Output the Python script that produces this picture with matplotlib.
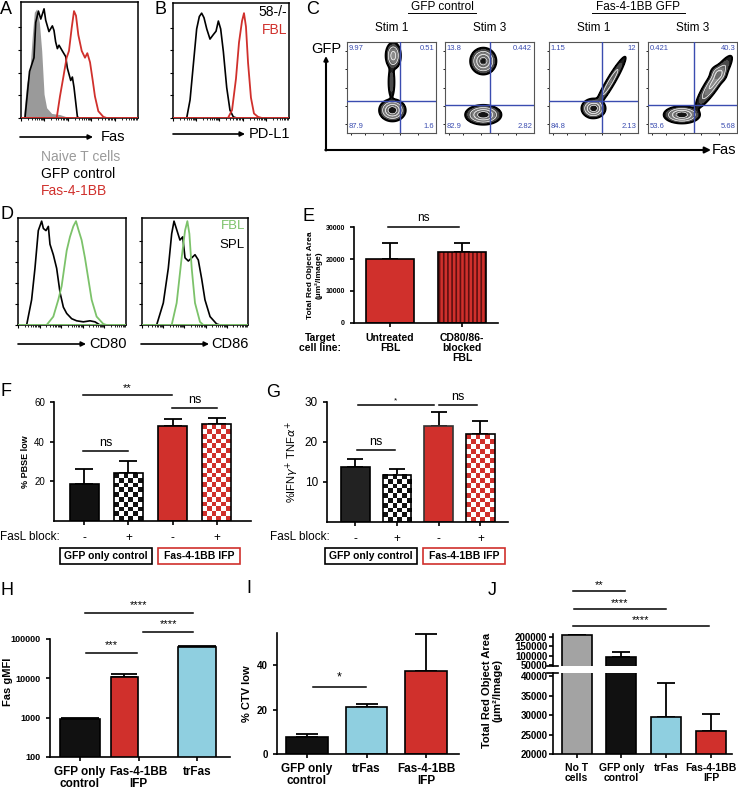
import numpy as np
import matplotlib
matplotlib.use('Agg')
import matplotlib.pyplot as plt
from matplotlib.patches import Rectangle, FancyArrowPatch
from matplotlib.lines import Line2D
from matplotlib.colors import ListedColormap

plt.rcParams['font.family'] = ['Liberation Sans', 'DejaVu Sans']
plt.rcParams['hatch.linewidth'] = 1.2

RED = '#d0302c'
BLUE = '#8fcfe0'
GREEN = '#7cc26a'
QBLUE = '#3a4cb0'

# ---------------- data ----------------
# A: Fas histograms (channel units 0-100, % of max)
a_naive_x = [2.0, 4.8, 7.7, 9.7, 11.4, 13.4, 15.7, 17.7, 19.7, 21.9, 26.2, 33.3, 39.0, 44.7]
a_naive_y = [0, 30, 44, 73, 93, 96, 84, 59, 21, 9, 4, 3, 1, 0]
a_gfp_x = [3.4, 7.3, 11.1, 12.6, 14.9, 16.9, 19.7, 21.1, 23.9, 26.8, 28.2, 29.6, 31.1, 32.5,
           35.3, 38.2, 39.6, 42.5, 43.9, 45.3, 48.2, 49.6]
a_gfp_y = [0, 41, 53, 84, 94, 87, 96, 86, 76, 81, 77, 67, 61, 64, 59, 54, 44, 33, 36, 27, 1, 0]
a_fas_x = [30.5, 33.3, 36.2, 39.0, 41.0, 43.3, 45.3, 47.0, 49.0, 51.9, 54.7, 56.7, 59.0, 61.3,
           63.2, 66.1, 70.4, 73.2]
a_fas_y = [0, 19, 36, 53, 59, 79, 94, 90, 73, 59, 53, 57, 49, 33, 19, 6, 1, 0]

# B: PD-L1 histograms
b_58_x = [11.8, 14.7, 17.5, 20.4, 22.7, 24.7, 26.7, 29.1, 31.9, 34.8, 37.1, 39.1, 41.1, 43.4,
          46.3, 49.1, 52.0, 54.9]
b_58_y = [0, 16, 47, 79, 90, 93, 89, 79, 70, 74, 77, 86, 79, 59, 27, 7, 1, 0]
b_fbl_x = [47.4, 50.9, 54.3, 56.9, 59.5, 61.2, 62.9, 64.7, 67.2, 69.8, 73.3, 76.7]
b_fbl_y = [0, 7, 35, 67, 86, 93, 81, 49, 18, 4, 1, 0]

# C: flow plots, quadrant values and populations (cx, cy, sx, sy, weight, corr)
c_titles = ['Stim 1', 'Stim 3', 'Stim 1', 'Stim 3']
c_quads = [['9.97', '0.51', '87.9', '1.6'],
           ['13.8', '0.442', '82.9', '2.82'],
           ['1.15', '12', '84.8', '2.13'],
           ['0.421', '40.3', '53.6', '5.68']]
c_gates = [(0.59, 0.35), (0.51, 0.31), (0.59, 0.35), (0.52, 0.31)]
c_pops = [
    [(0.51, 0.25, 0.055, 0.045, 1.0, 0.0), (0.52, 0.85, 0.035, 0.06, 0.5, 0.0),
     (0.50, 0.56, 0.018, 0.09, 0.13, 0.0)],
    [(0.43, 0.20, 0.075, 0.04, 1.0, 0.0), (0.43, 0.79, 0.055, 0.055, 0.9, 0.0)],
    [(0.50, 0.27, 0.05, 0.04, 1.0, 0.0), (0.69, 0.56, 0.08, 0.13, 0.25, 0.95)],
    [(0.38, 0.20, 0.075, 0.035, 1.0, 0.0), (0.74, 0.56, 0.085, 0.12, 0.45, 0.9),
     (0.79, 0.65, 0.04, 0.04, 0.25, 0.0)],
]

# D: CD80 / CD86 histograms
d80_spl_x = [8.0, 12.6, 15.7, 18.8, 21.9, 23.5, 25.9, 28.1, 29.6, 32.7, 35.8, 38.9, 42.0, 45.1,
             49.7, 54.3, 60.5, 66.7, 71.3, 75.9]
d80_spl_y = [0, 24, 54, 90, 99, 92, 90, 94, 77, 67, 54, 31, 17, 11, 6, 4, 3, 4, 3, 0]
d80_fbl_x = [26.5, 32.7, 37.3, 40.4, 45.1, 48.1, 51.2, 53.7, 55.9, 57.4, 58.9, 62.0, 65.1, 68.2,
             72.8, 79.0, 82.1]
d80_fbl_y = [0, 8, 24, 37, 71, 84, 94, 99, 91, 86, 81, 64, 44, 24, 8, 1, 0]
d86_spl_x = [13.8, 20.1, 24.8, 28.0, 30.2, 32.7, 35.8, 38.4, 40.6, 43.7, 46.9, 50.0, 53.1, 56.3,
             59.4, 64.2, 70.4, 73.6]
d86_spl_y = [0, 21, 54, 87, 99, 91, 81, 84, 64, 61, 64, 67, 62, 44, 24, 8, 1, 0]
d86_fbl_x = [28.0, 32.7, 37.4, 40.6, 42.8, 44.7, 46.9, 50.0, 54.7, 57.9]
d86_fbl_y = [0, 21, 64, 90, 99, 87, 54, 21, 3, 0]

# E
e_labels = ['Untreated\nFBL', 'CD80/86-\nblocked\nFBL']
e_vals = [20000, 22200]
e_errs = [5000, 2800]

# F
f_ticks = ['-', '+', '-', '+']
f_vals = [18.7, 24.2, 47.9, 48.9]
f_errs = [7.5, 6.1, 3.5, 3.0]

# G
g_vals = [13.8, 11.8, 24.0, 22.0]
g_errs = [2.0, 1.5, 3.5, 3.3]

# H
h_labels = ['GFP only\ncontrol', 'Fas-4-1BB\nIFP', 'trFas']
h_vals = [940, 10700, 63000]
h_errs = [40, 2000, 1800]

# I
i_labels = ['GFP only\ncontrol', 'trFas', 'Fas-4-1BB\nIFP']
i_vals = [7.5, 21.0, 37.3]
i_errs = [1.3, 1.4, 16.5]

# J
j_labels = ['No T\ncells', 'GFP only\ncontrol', 'trFas', 'Fas-4-1BB\nIFP']
j_vals = [210000, 92000, 29400, 25800]
j_errs = [5000, 27000, 8800, 4400]

# ---------------- figure helpers ----------------
W, H = 738, 793
fig = plt.figure(figsize=(W / 100, H / 100), dpi=100)


def px_axes(x0, y0, x1, y1):
    return fig.add_axes([x0 / W, 1 - y1 / H, (x1 - x0) / W, (y1 - y0) / H])


def ftext(x, y, s, **kw):
    return fig.text(x / W, 1 - y / H, s, **kw)


def fline(x0, y0, x1, y1, **kw):
    fig.add_artist(Line2D([x0 / W, x1 / W], [1 - y0 / H, 1 - y1 / H],
                          transform=fig.transFigure, **kw))


def farrow(x0, y0, x1, y1, lw=1.2, head=7):
    fig.add_artist(FancyArrowPatch((x0 / W, 1 - y0 / H), (x1 / W, 1 - y1 / H),
                                   transform=fig.transFigure, arrowstyle='-|>',
                                   mutation_scale=head, lw=lw, color='black',
                                   shrinkA=0, shrinkB=0))


def fbox(x0, y0, x1, y1, color):
    fig.add_artist(Rectangle((x0 / W, 1 - y1 / H), (x1 - x0) / W, (y1 - y0) / H,
                             transform=fig.transFigure, fill=False, edgecolor=color, lw=1.2))


def hist_axes(ax, base_color):
    ax.set_xlim(0, 100)
    ax.set_ylim(0, 102)
    ax.set_yticks([0, 20, 40, 60, 80])
    ax.set_yticklabels([])
    minor = [d + 20 * np.log10(k) for d in [0, 20, 40, 60, 80] for k in range(2, 10)]
    ax.set_xticks([0, 20, 40, 60, 80])
    ax.set_xticks(minor, minor=True)
    ax.set_xticklabels([])
    ax.tick_params(length=2, width=0.8)
    ax.tick_params(which='minor', length=1.2, width=0.6)
    for s in ax.spines.values():
        s.set_linewidth(1.1)
    ax.axhline(0.4, color=base_color, lw=1.4, zorder=5)


def bar_axes(ax):
    for s in ['top', 'right']:
        ax.spines[s].set_visible(False)
    for s in ['left', 'bottom']:
        ax.spines[s].set_linewidth(1.2)
    ax.tick_params(width=1.2, length=3)


def upper_err(ax, x, v, e, cap, lw=1.3):
    ax.errorbar(x, v, yerr=[np.zeros(len(v)), e], fmt='none', ecolor='black',
                elinewidth=lw, capsize=cap, capthick=lw, zorder=1)


def sig(ax, x0, x1, y, ty, label, fs=8):
    ax.plot([x0, x1], [y, y], color='black', lw=1.1, clip_on=False)
    ax.text((x0 + x1) / 2, ty, label, ha='center', va='bottom', fontsize=fs, clip_on=False)


def checker_bar(ax, x, w, h, color, nx, sq):
    ny = max(1, int(round(h / sq)))
    arr = np.indices((ny, nx)).sum(axis=0) % 2
    ax.imshow(arr, extent=[x - w / 2, x + w / 2, 0, h], cmap=ListedColormap(['white', color]),
              aspect='auto', interpolation='nearest', origin='lower', zorder=2)
    ax.bar(x, h, w, fill=False, edgecolor='black', lw=1.2, zorder=3)


# ---------------- panel letters ----------------
for s, x, y in [('A', 0, 1), ('B', 155, 1), ('C', 306, 1), ('D', 0, 206), ('E', 302, 208),
                ('F', 0, 383), ('G', 266, 384), ('H', 0, 582), ('I', 246, 580), ('J', 488, 582)]:
    ftext(x, y, s, fontsize=13, va='top', ha='left')

# ---------------- A ----------------
axA = px_axes(21, 2, 138, 118)
axA.fill_between(a_naive_x, a_naive_y, color='#9a9a9a', lw=0)
axA.plot(a_gfp_x, a_gfp_y, color='black', lw=1.2)
axA.plot(a_fas_x, a_fas_y, color=RED, lw=1.3)
hist_axes(axA, RED)
farrow(20, 137, 93, 137)
ftext(101, 137, 'Fas', fontsize=10.5, va='center')
ftext(41, 157, 'Naive T cells', fontsize=10, color='#9a9a9a', va='center')
ftext(41, 174, 'GFP control', fontsize=10, color='black', va='center')
ftext(41, 191, 'Fas-4-1BB', fontsize=10, color=RED, va='center')

# ---------------- B ----------------
axB = px_axes(173, 3, 289, 118)
axB.plot(b_58_x, b_58_y, color='black', lw=1.2)
axB.plot(b_fbl_x, b_fbl_y, color=RED, lw=1.3)
hist_axes(axB, RED)
ftext(287, 12, '58-/-', fontsize=10, ha='right', va='center')
ftext(287, 30, 'FBL', fontsize=10, ha='right', va='center', color=RED)
farrow(173, 134, 245, 134)
ftext(249, 134, 'PD-L1', fontsize=10.5, va='center')

# ---------------- C ----------------
gx = np.linspace(0, 1, 220)
GX, GY = np.meshgrid(gx, gx)
lev = [0.025, 0.07, 0.14, 0.24, 0.37, 0.52, 0.68, 0.85, 1.01]
fills = ['#202020', '#4a4a4a', '#626262', '#7a7a7a', '#8c8c8c', '#6a6a6a', '#404040', '#151515']
c_boxes = [(347, 436), (445, 534), (549, 638), (648, 737)]
for (x0, x1), pops, quads, (qx, qy), title in zip(c_boxes, c_pops, c_quads, c_gates, c_titles):
    ax = px_axes(x0, 42, x1, 133)
    Z = np.zeros_like(GX)
    for cx, cy, sx, sy, w, r in pops:
        dx = (GX - cx) / sx
        dy = (GY - cy) / sy
        Z += w * np.exp(-(dx * dx - 2 * r * dx * dy + dy * dy) / (2 * (1 - r * r)))
    Z = Z / Z.max()
    ax.contourf(GX, GY, Z, levels=lev, colors=fills, zorder=1)
    ax.contour(GX, GY, Z, levels=lev[2:-1:2], colors='white', linewidths=0.5, zorder=2)
    ax.contour(GX, GY, Z, levels=[lev[0]], colors='black', linewidths=1.4, zorder=2)
    ax.axvline(qx, color=QBLUE, lw=1.0, zorder=3)
    ax.axhline(qy, color=QBLUE, lw=1.0, zorder=3)
    ax.set_xlim(0, 1)
    ax.set_ylim(0, 1)
    kw = dict(fontsize=5.5, color=QBLUE, transform=ax.transAxes, zorder=6)
    ax.text(0.02, 0.97, quads[0], ha='left', va='top', **kw)
    ax.text(0.98, 0.97, quads[1], ha='right', va='top', **kw)
    ax.text(0.02, 0.03, quads[2], ha='left', va='bottom', **kw)
    ax.text(0.98, 0.03, quads[3], ha='right', va='bottom', **kw)
    ax.set_xticks([0.05, 0.2, 0.4, 0.6, 0.8])
    ax.set_yticks([0.1, 0.3, 0.5, 0.7, 0.9])
    ax.set_xticklabels([])
    ax.set_yticklabels([])
    ax.tick_params(length=1.5, width=0.6)
    for s in ax.spines.values():
        s.set_linewidth(0.8)
        s.set_color('#555555')
    ftext((x0 + x1) / 2, 28, title, fontsize=8.5, ha='center', va='center')
ftext(442, 7, 'GFP control', fontsize=8.5, ha='center', va='center')
fline(408, 13, 476, 13, color='black', lw=0.7)
ftext(638, 7, 'Fas-4-1BB GFP', fontsize=8.5, ha='center', va='center')
fline(592, 13, 685, 13, color='black', lw=0.7)
ftext(311, 49, 'GFP', fontsize=10.5, ha='left', va='center')
farrow(326, 150.5, 326, 56, lw=1.5, head=6)
farrow(325.3, 150, 711, 150, lw=1.5, head=9)
ftext(712, 150, 'Fas', fontsize=10.5, ha='left', va='center')

# ---------------- D ----------------
axD1 = px_axes(18, 218, 126, 325)
axD1.plot(d80_spl_x, d80_spl_y, color='black', lw=1.2)
axD1.plot(d80_fbl_x, d80_fbl_y, color=GREEN, lw=1.3)
hist_axes(axD1, GREEN)
axD2 = px_axes(142, 218, 248, 325)
axD2.plot(d86_spl_x, d86_spl_y, color='black', lw=1.2)
axD2.plot(d86_fbl_x, d86_fbl_y, color=GREEN, lw=1.3)
hist_axes(axD2, GREEN)
ftext(245, 226, 'FBL', fontsize=9.5, ha='right', va='center', color=GREEN)
ftext(245, 245, 'SPL', fontsize=9.5, ha='right', va='center')
farrow(18, 344, 86, 344)
ftext(89, 344, 'CD80', fontsize=10.5, va='center')
farrow(141, 344, 209, 344)
ftext(211, 344, 'CD86', fontsize=10.5, va='center')

# ---------------- E ----------------
axE = px_axes(354, 227, 498, 323)
xe = np.arange(len(e_vals))
axE.bar(xe[0], e_vals[0], 0.67, color=RED, edgecolor='black', lw=1.2, zorder=2)
axE.bar(xe[1], e_vals[1], 0.67, color=RED, edgecolor='#5e1010', hatch='||||', lw=0, zorder=2)
axE.bar(xe[1], e_vals[1], 0.67, fill=False, edgecolor='black', lw=1.2, zorder=3)
upper_err(axE, xe, e_vals, e_errs, 5.5)
bar_axes(axE)
axE.set_xlim(-0.5, 1.5)
axE.set_ylim(0, 30000)
axE.set_yticks([0, 10000, 20000, 30000])
axE.set_yticklabels(['0', '10000', '20000', '30000'], fontsize=5, fontweight='bold')
axE.set_xticks(xe)
axE.set_xticklabels(e_labels, fontsize=7.5, fontweight='bold', linespacing=1.0)
axE.tick_params(axis='x', pad=4)
axE.set_ylabel('Total Red Object Area\n(µm²/Image)', fontsize=6, fontweight='bold', labelpad=2,
               linespacing=1.1)
sig(axE, -0.03, 0.96, 30000, 30800, 'ns', fs=8.5)
ftext(320, 343, 'Target\ncell line:', fontsize=7.5, fontweight='bold', ha='center', va='center',
      linespacing=1.0)

# ---------------- F ----------------
axF = px_axes(54, 402, 251, 521)
xf = np.arange(4)
axF.bar(xf[0], f_vals[0], 0.65, color='#111111', edgecolor='black', lw=1.2, zorder=2)
checker_bar(axF, xf[1], 0.65, f_vals[1], '#111111', 6, 2.4)
axF.bar(xf[2], f_vals[2], 0.65, color=RED, edgecolor='black', lw=1.2, zorder=2)
checker_bar(axF, xf[3], 0.65, f_vals[3], RED, 6, 2.4)
upper_err(axF, xf, f_vals, f_errs, 6.3)
bar_axes(axF)
axF.set_xlim(-0.69, 3.78)
axF.set_ylim(0, 60)
axF.set_yticks([20, 40, 60])
axF.set_yticklabels(['20', '40', '60'], fontsize=7)
axF.set_xticks(xf)
axF.set_xticklabels(f_ticks, fontsize=8.5)
axF.tick_params(axis='x', pad=5)
axF.set_ylabel('% PBSE low', fontsize=6.5, fontweight='bold', labelpad=3)
sig(axF, -0.03, 0.99, 35.3, 36.3, 'ns', fs=9)
sig(axF, 1.99, 3.01, 57.0, 58.0, 'ns', fs=9)
sig(axF, -0.04, 1.99, 63.5, 64.3, '**', fs=8)
ftext(0, 537, 'FasL block:', fontsize=8.5, va='center')
fbox(60, 548, 152, 564, 'black')
ftext(106, 556, 'GFP only control', fontsize=7.5, fontweight='bold', ha='center', va='center')
fbox(158, 548, 240, 564, RED)
ftext(199, 556, 'Fas-4-1BB IFP', fontsize=7.5, fontweight='bold', ha='center', va='center')

# ---------------- G ----------------
axG = px_axes(327, 402, 508, 522)
xg = np.arange(4)
axG.bar(xg[0], g_vals[0], 0.69, color='#222222', edgecolor='black', lw=1.2, zorder=2)
checker_bar(axG, xg[1], 0.69, g_vals[1], '#111111', 6, 1.2)
axG.bar(xg[2], g_vals[2], 0.69, color=RED, edgecolor='#333333', lw=1.2, zorder=2)
checker_bar(axG, xg[3], 0.69, g_vals[3], RED, 6, 1.2)
upper_err(axG, xg, g_vals, g_errs, 6)
bar_axes(axG)
axG.set_xlim(-0.68, 3.66)
axG.set_ylim(0, 30)
axG.set_yticks([10, 20, 30])
axG.set_yticklabels(['10', '20', '30'], fontsize=8.5)
axG.set_xticks(xg)
axG.set_xticklabels(f_ticks, fontsize=8.5)
axG.tick_params(axis='x', pad=5)
axG.set_ylabel(r'%IFN$\gamma^{+}$ TNF$\alpha^{+}$', fontsize=8, labelpad=3)
sig(axG, 0.04, 0.95, 18.0, 18.5, 'ns', fs=9)
sig(axG, 0.06, 1.88, 29.25, 29.5, '*', fs=6)
sig(axG, 2.0, 2.91, 29.25, 29.8, 'ns', fs=9)
ftext(270, 537, 'FasL block:', fontsize=8.5, va='center')
fbox(325, 548, 417, 564, 'black')
ftext(371, 556, 'GFP only control', fontsize=7.5, fontweight='bold', ha='center', va='center')
fbox(423, 548, 505, 564, RED)
ftext(464, 556, 'Fas-4-1BB IFP', fontsize=7.5, fontweight='bold', ha='center', va='center')

# ---------------- H ----------------
axH = px_axes(50, 639, 230, 757)
xh = np.arange(3)
# bar placement as drawn in the original (middle bar narrower, shifted left)
h_pos = [0.0, 0.76, 2.0]
h_wid = [0.67, 0.46, 0.65]
h_cap = [14, 9.5, 13.5]
h_col = ['#111111', RED, BLUE]
for k in range(3):
    axH.bar(h_pos[k], h_vals[k], h_wid[k], color=h_col[k], edgecolor='black', lw=1.2, zorder=2)
    upper_err(axH, [h_pos[k]], [h_vals[k]], [h_errs[k]], h_cap[k])
axH.set_yscale('log')
bar_axes(axH)
axH.set_xlim(-0.51, 2.56)
axH.set_ylim(100, 100000)
axH.minorticks_off()
axH.set_yticks([100, 1000, 10000, 100000])
axH.set_yticklabels(['100', '1000', '10000', '100000'], fontsize=6.5, fontweight='bold')
axH.set_xticks(xh)
axH.set_xticklabels(h_labels, fontsize=8.5, fontweight='bold', linespacing=1.05)
ftext(8, 682, 'Fas gMFI', fontsize=8, fontweight='bold', rotation=90, ha='center', va='center')
sig(axH, 0.1, 0.98, 44000, 52000, '***', fs=8)
sig(axH, 1.08, 1.93, 150000, 175000, '****', fs=8)
sig(axH, 0.08, 1.93, 457000, 540000, '****', fs=8)

# ---------------- I ----------------
axI = px_axes(277, 633, 459, 754)
xi = np.arange(3)
axI.bar(xi, i_vals, 0.7, color=['#111111', BLUE, RED], edgecolor='black', lw=1.2, zorder=2)
upper_err(axI, xi, i_vals, i_errs, 8)
bar_axes(axI)
axI.set_xlim(-0.5, 2.55)
axI.set_ylim(0, 54.4)
axI.set_yticks([0, 20, 40])
axI.set_yticklabels(['0', '20', '40'], fontsize=7, fontweight='bold')
axI.set_xticks(xi)
axI.set_xticklabels(i_labels, fontsize=8.5, fontweight='bold', linespacing=1.05)
axI.set_ylabel('% CTV low', fontsize=8, fontweight='bold', labelpad=4)
sig(axI, 0.1, 0.99, 30.0, 31.5, '*', fs=9)

# ---------------- J (broken axis) ----------------
axJt = px_axes(553, 634, 732, 666)
axJb = px_axes(553, 673, 732, 754)
xj = np.arange(4)
jcols = ['#a3a3a3', '#111111', BLUE, RED]
j_top_lo = 45000
for ax in (axJt, axJb):
    ax.bar(xj, j_vals, 0.67, color=jcols, edgecolor='black', lw=1.2, zorder=2)
    bar_axes(ax)
    ax.set_xlim(-0.53, 3.47)
# error bars: upper segment only for bars that reach it
top = [k for k in range(len(j_vals)) if j_vals[k] > j_top_lo]
upper_err(axJt, xj[top], [j_vals[k] for k in top], [j_errs[k] for k in top], 6.5)
low = [k for k in range(len(j_vals)) if j_vals[k] < j_top_lo]
upper_err(axJb, xj[low], [j_vals[k] for k in low], [j_errs[k] for k in low], 6.5)
axJt.set_ylim(j_top_lo, 216000)
axJt.set_yticks([50000, 100000, 150000, 200000])
axJt.set_yticklabels(['50000', '100000', '150000', '200000'], fontsize=7, fontweight='bold')
axJt.spines['bottom'].set_visible(False)
axJt.set_xticks([])
axJt.tick_params(axis='y', length=3, pad=1)
axJb.set_ylim(20000, 40770)
axJb.set_yticks([20000, 25000, 30000, 35000, 40000])
axJb.set_yticklabels(['20000', '25000', '30000', '35000', '40000'], fontsize=7, fontweight='bold')
axJb.tick_params(axis='y', pad=1)
axJb.set_xticks(xj)
axJb.set_xticklabels(j_labels, fontsize=7.5, fontweight='bold', linespacing=1.05)
fline(547, 666, 558, 666, color='black', lw=1.2)
fline(547, 673, 558, 673, color='black', lw=1.2)
sig(axJt, -0.09, 1.09, 446000, 452000, '**', fs=8)
sig(axJt, -0.07, 2.0, 350000, 356000, '****', fs=8)
sig(axJt, -0.09, 2.96, 259000, 265000, '****', fs=8)
ftext(492, 690, 'Total Red Object Area\n(µm²/Image)', fontsize=8, fontweight='bold', rotation=90,
      ha='center', va='center', linespacing=1.1)

fig.savefig('out.png', dpi=100)
